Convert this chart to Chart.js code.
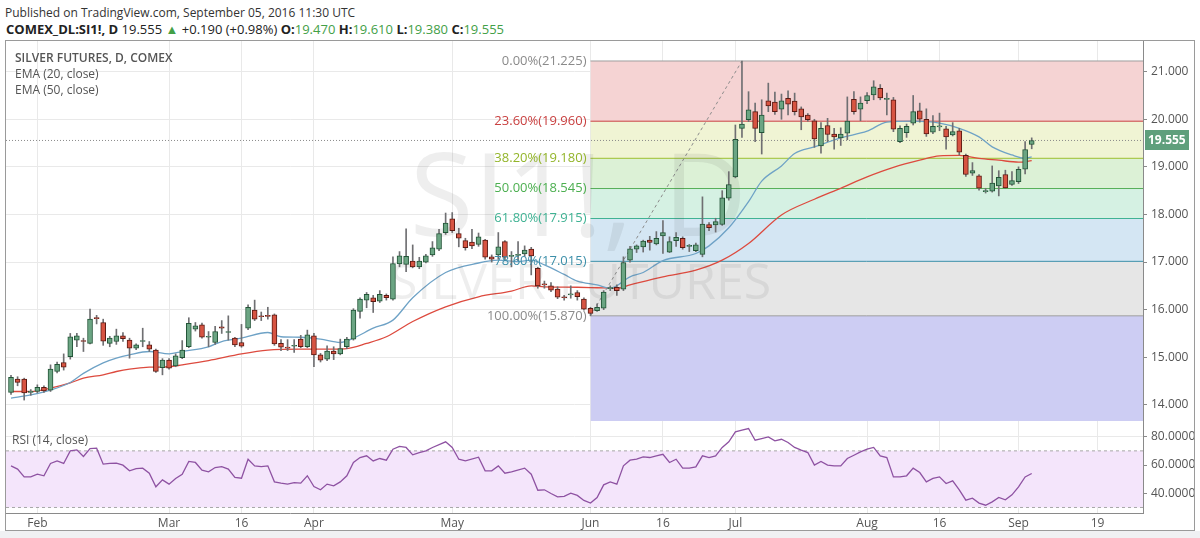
<!DOCTYPE html>
<html>
<head>
<meta charset="utf-8">
<script src="https://cdn.jsdelivr.net/npm/chart.js@4.4.0/dist/chart.umd.min.js"></script>
<style>
html, body { margin: 0; padding: 0; background: #fff; }
body { width: 1200px; height: 538px; position: relative; overflow: hidden; font-family: 'Open Sans', sans-serif; color: #333; }
#hdr1 { position: absolute; left: 5px; top: 4px; font-size: 12px; color: #333; }
#hdr2 { position: absolute; left: 6px; top: 20px; font-size: 13px; color: #222; }
.b { font-weight: bold; }
.g { color: #43a047; }
#under { position: absolute; left: 0; top: 531px; width: 1200px; height: 7px; background: #f0f1f3; }
#frame { position: absolute; left: 5px; top: 40px; width: 1190px; height: 491px; border: 1px solid #9a9a9a; box-sizing: border-box; }
#main { position: absolute; left: 6px; top: 41px; }
#rsi { position: absolute; left: 6px; top: 421px; }
.lg { position: absolute; font-size: 12px; color: #555; white-space: nowrap; }
</style>
</head>
<body>
<div id="hdr1">Published on TradingView.com, September 05, 2016 11:30 UTC</div>
<div id="hdr2"><span class="b">COMEX_DL:SI1!, D</span> 19.555 <span class="g">▲</span> +0.190 (+0.98%) <span class="b">O:</span><span class="g">19.470</span> <span class="b">H:</span><span class="g">19.610</span> <span class="b">L:</span><span class="g">19.380</span> <span class="b">C:</span><span class="g">19.555</span></div>
<div id="under"></div>
<div id="frame"></div>
<canvas id="main" width="1188" height="380"></canvas>
<canvas id="rsi" width="1188" height="109"></canvas>
<div class="lg" style="left:15px;top:49px;font-weight:600;">SILVER FUTURES, D, COMEX</div>
<div class="lg" style="left:15px;top:65px;">EMA (20, close)</div>
<div class="lg" style="left:15px;top:81px;">EMA (50, close)</div>
<div class="lg" style="left:12px;top:431px;">RSI (14, close)</div>
<script>
// daily bars, Jan 26 .. Sep 5 2016 (bar index = position in these arrays)
const open = [14.26,14.54,14.54,14.26,14.28,14.37,14.31,14.70,14.89,15.01,15.36,15.35,15.29,15.83,15.73,15.29,15.33,15.45,15.36,15.19,
  15.33,15.26,15.15,14.78,14.94,14.82,14.99,15.22,15.59,15.68,15.42,15.31,15.64,15.52,15.40,15.31,15.61,15.99,15.86,15.88,
  15.89,15.29,15.20,15.23,15.38,15.22,15.45,15.05,14.96,15.13,15.07,15.22,15.38,15.96,16.20,16.25,16.18,16.30,16.22,16.96,
  16.95,17.02,16.90,17.00,17.15,17.27,17.62,17.91,17.60,17.45,17.42,17.37,17.46,17.11,17.15,17.43,17.12,17.14,17.17,17.27,
  16.87,16.54,16.50,16.43,16.26,16.31,16.36,16.22,16.03,15.98,16.03,16.44,16.47,16.43,17.04,17.27,17.32,17.46,17.38,17.55,
  17.21,17.45,17.50,17.33,17.24,17.16,17.79,17.78,17.79,18.34,18.79,19.81,19.99,20.16,19.72,20.39,20.36,20.21,20.44,20.38,
  20.22,20.09,19.97,19.44,19.87,19.69,19.61,19.71,20.42,20.21,20.39,20.51,20.65,20.42,20.41,19.53,19.72,19.92,20.18,20.00,
  19.73,19.84,19.80,19.67,19.76,19.24,18.87,18.81,18.48,18.49,18.60,18.84,18.63,18.69,18.95,19.47];
const high = [14.62,14.59,14.56,14.32,14.42,14.40,14.84,14.90,15.07,15.50,15.50,15.40,16.01,15.88,15.80,15.44,15.59,15.52,15.40,15.28,
  15.61,15.33,15.17,14.97,14.97,15.07,15.35,15.83,15.73,15.72,15.54,15.65,15.77,15.87,15.42,15.69,16.10,16.20,15.95,16.05,
  15.91,15.37,15.37,15.37,15.46,15.57,15.50,15.08,15.24,15.22,15.38,15.42,16.02,16.25,16.36,16.30,16.40,16.33,17.11,17.22,
  17.70,17.36,17.10,17.16,17.43,17.69,18.03,18.04,17.71,17.50,17.69,17.61,17.48,17.15,17.62,17.45,17.22,17.43,17.34,17.31,
  16.89,16.60,16.57,16.48,16.30,16.50,16.40,16.25,16.05,16.12,16.40,16.50,16.52,17.11,17.33,17.36,17.46,17.54,17.64,17.87,
  17.53,17.62,17.53,17.37,17.40,18.37,17.83,17.92,18.50,18.90,19.88,21.225,20.58,20.34,20.41,20.76,20.57,20.53,20.60,20.55,
  20.26,20.12,20.00,19.93,20.02,19.81,19.82,20.47,20.58,20.47,20.56,20.81,20.73,20.55,20.46,19.86,19.90,20.50,20.34,20.22,
  20.08,20.13,19.85,19.93,19.81,19.27,19.09,18.84,18.55,19.02,18.92,18.93,18.90,19.00,19.53,19.61];
const low = [14.22,14.40,14.10,14.20,14.25,14.26,14.28,14.67,14.73,14.96,15.22,15.12,15.28,15.70,15.25,15.22,15.27,15.33,14.98,15.16,
  15.22,15.12,14.68,14.63,14.75,14.80,14.97,15.20,15.55,15.40,15.22,15.27,15.50,15.36,15.22,15.21,15.58,15.77,15.77,15.80,
  15.25,15.14,15.14,15.10,15.20,15.20,14.80,14.90,14.93,14.95,15.05,15.18,15.36,15.82,16.04,15.94,16.15,16.20,16.20,16.90,
  16.80,16.88,16.86,16.98,17.12,17.24,17.58,17.62,17.32,17.25,17.28,17.33,17.06,17.00,17.06,17.03,16.90,17.03,17.12,16.73,
  16.45,16.45,16.38,16.23,16.20,16.24,16.20,15.99,15.87,15.96,16.00,16.40,16.30,16.40,17.00,17.20,17.21,17.25,17.36,17.18,
  17.20,17.33,17.27,17.22,17.22,17.11,17.66,17.63,17.77,18.30,18.77,19.62,19.95,19.53,19.27,20.16,20.10,20.00,20.09,20.09,
  19.78,19.96,19.41,19.29,19.53,19.37,19.45,19.57,20.11,19.97,20.33,20.41,20.41,20.09,19.74,19.51,19.62,19.88,19.94,19.64,
  19.70,19.76,19.37,19.65,19.25,18.80,18.82,18.51,18.45,18.47,18.39,18.55,18.61,18.65,18.85,19.38];
const close = [14.58,14.47,14.25,14.27,14.37,14.29,14.75,14.85,14.79,15.43,15.45,15.33,15.80,15.81,15.34,15.40,15.45,15.39,15.19,15.26,
  15.34,15.17,14.70,14.94,14.77,15.03,15.15,15.71,15.66,15.42,15.44,15.54,15.61,15.54,15.26,15.23,16.05,15.80,15.85,15.86,
  15.28,15.21,15.19,15.25,15.22,15.47,15.05,14.94,15.13,15.07,15.18,15.38,15.99,16.22,16.32,16.17,16.32,16.25,16.97,17.13,
  17.12,16.90,17.02,17.13,17.30,17.60,17.82,17.66,17.50,17.30,17.34,17.53,17.10,17.06,17.32,17.10,17.14,17.16,17.25,17.13,
  16.50,16.52,16.41,16.26,16.25,16.33,16.27,16.01,15.92,16.05,16.37,16.46,16.40,16.99,17.28,17.34,17.44,17.41,17.50,17.62,
  17.43,17.52,17.30,17.35,17.36,17.80,17.72,17.85,18.35,18.63,19.58,19.90,20.20,19.81,20.09,20.28,20.16,20.39,20.32,20.16,
  20.05,19.99,19.59,19.81,19.68,19.63,19.69,19.96,20.16,20.34,20.50,20.68,20.45,20.44,19.79,19.81,19.85,20.16,20.00,19.69,
  19.85,19.86,19.63,19.74,19.31,18.84,18.92,18.55,18.50,18.66,18.78,18.56,18.71,18.95,19.365,19.555];

// EMA readings (bar index, value)
const ema20Idx = [0,3,6,9,11,14,16,18,21,24,26,30,32,35,39,41,44,47,50,52,55,58,61,66,71,74,77,79,81,84,86,89,91,94,96,99,104,106,109,112,114,117,119,122,126,130,133,137,141,144,147,149,152,154,155];
const ema20Val = [14.14,14.21,14.31,14.47,14.66,14.88,14.98,15.05,15.12,15.07,15.12,15.22,15.33,15.40,15.52,15.43,15.42,15.38,15.31,15.40,15.61,15.78,16.25,16.78,16.98,17.04,17.01,17.04,16.94,16.74,16.60,16.52,16.45,16.69,16.78,17.03,17.18,17.34,17.72,18.27,18.70,19.02,19.28,19.42,19.61,19.75,19.94,19.96,19.92,19.81,19.63,19.42,19.25,19.18,19.21];
const ema50Idx = [0,3,6,9,11,14,16,18,21,24,26,30,35,39,44,49,51,54,57,61,66,71,76,79,81,86,89,92,94,99,104,108,112,117,122,126,130,134,138,141,144,147,150,153,155];
const ema50Val = [14.28,14.28,14.35,14.46,14.56,14.63,14.70,14.75,14.79,14.80,14.84,14.93,15.07,15.15,15.17,15.17,15.18,15.29,15.43,15.75,16.06,16.27,16.39,16.50,16.48,16.47,16.46,16.45,16.52,16.69,16.83,17.04,17.39,17.99,18.32,18.55,18.79,18.99,19.14,19.23,19.24,19.18,19.14,19.10,19.13];

// RSI(14) readings
const rsiIdx = [0,1,2,3,4,5,6,7,8,9,10,11,12,13,14,15,16,17,18,19,20,21,22,23,24,25,26,27,28,29,30,31,32,33,34,35,36,37,38,39,
  40,41,42,43,44,45,46,47,48,49,50,51,52,53,54,55,56,57,58,59,60,61,62,63,64,66,67,68,69,71,72,73,74,75,76,78,79,80,81,82,
  83,84,85,86,87,88,89,90,91,92,93,94,95,96,97,98,99,100,101,102,103,104,105,106,107,108,109,110,111,112,113,114,115,116,117,118,119,120,
  121,122,123,124,125,126,127,128,129,130,131,132,133,134,135,136,137,138,139,140,141,142,143,144,145,146,147,148,149,150,151,152,153,154,155];
const rsiVal = [59.4,57.1,51.6,51.6,53.5,52.4,61.1,62.9,61.1,70.0,70.7,66.0,71.6,71.9,60.6,61.1,61.3,59.9,55.9,57.5,57.8,54.2,44.6,49.5,46.5,50.5,53.5,62.5,61.8,56.4,55.2,58.2,58.9,57.1,51.2,50.7,64.1,59.4,58.9,59.4,
  48.1,47.2,46.5,47.6,47.2,52.4,44.8,42.5,46.5,45.3,48.1,52.4,61.8,65.3,66.5,62.9,64.6,63.4,71.2,73.1,72.4,67.2,68.8,70.0,72.4,76.4,72.4,64.1,62.9,65.5,55.9,55.9,59.4,54.2,55.2,57.8,53.5,42.2,42.5,39.9,
  37.5,37.8,40.1,38.5,35.0,33.1,37.0,46.0,48.1,46.5,59.4,63.4,64.1,65.8,65.3,66.5,67.6,61.8,64.1,57.8,57.8,58.7,66.5,65.3,66.5,72.4,76.4,83.4,84.6,85.8,77.5,78.7,79.9,77.1,78.2,75.9,72.4,70.5,
  68.8,59.9,62.5,59.9,59.4,59.4,64.6,66.9,69.3,71.2,72.4,66.5,65.3,51.6,51.6,52.4,57.8,54.7,48.1,50.5,51.6,46.9,48.8,42.5,35.2,36.6,33.1,31.6,34.0,37.1,35.4,38.9,44.6,51.6,54.0];

// fibonacci retracement drawn from the Jun 1 low to the Jul 5 high
const fibStart = 88, fibEnd = 111;
const fibPct = ['0.00%', '23.60%', '38.20%', '50.00%', '61.80%', '78.60%', '100.00%'];
const fibVal = [21.225, 19.960, 19.180, 18.545, 17.915, 17.015, 15.870];
const fibLine = ['#9e9e9e', '#c94040', '#9cbf2f', '#58b05a', '#3fb293', '#3c8fa9', '#9e9e9e'];
const fibZone = [null, '#f5d3d3', '#f0f4d4', '#dcf1d6', '#d5f1e3', '#d4e6f3', '#e6e6e6'];
const fibText = ['#8a8a8a', '#c94040', '#93b52a', '#4caf50', '#3fb293', '#3c8fa9', '#8a8a8a'];

const tickIdx = [4, 24, 35, 46, 67, 88, 99, 110, 130, 141, 153, 165];
const tickLab = ['Feb', 'Mar', '16', 'Apr', 'May', 'Jun', '16', 'Jul', 'Aug', '16', 'Sep', '19'];
const priceTicks = [14, 15, 16, 17, 18, 19, 20, 21];
const rsiTicks = [40, 60, 80];
const lastPrice = 19.555;

const xMin = -0.76, xMax = 171.9;
const FONT = "'Open Sans', sans-serif";
const bars = close.map((c, i) => i);

const datasets = [];
fibVal.forEach((v, k) => {
  datasets.push({
    type: 'line', data: [{x: fibStart, y: v}, {x: xMax, y: v}],
    borderColor: fibLine[k], borderWidth: 1, pointRadius: 0,
    fill: k === 0 ? false : '-1', backgroundColor: fibZone[k], order: 10
  });
});
datasets.push({
  type: 'line', data: [{x: fibStart, y: fibVal[6]}, {x: xMax, y: fibVal[6]}],
  borderColor: 'rgba(0,0,0,0)', borderWidth: 0, pointRadius: 0,
  fill: 'start', backgroundColor: '#cdcdf3', order: 10
});
datasets.push({
  type: 'line', data: [{x: fibStart, y: fibVal[6]}, {x: fibEnd, y: fibVal[0]}],
  borderColor: '#8c8c8c', borderWidth: 1, borderDash: [3, 3], pointRadius: 0, fill: false, order: 9
});
datasets.push({
  type: 'line', data: [{x: xMin, y: lastPrice}, {x: xMax, y: lastPrice}],
  borderColor: '#8a8a8a', borderWidth: 1, borderDash: [1, 2], pointRadius: 0, fill: false, order: 9
});
datasets.push({
  type: 'line', data: ema20Idx.map((x, k) => ({x, y: ema20Val[k]})),
  borderColor: '#6ea2c6', borderWidth: 1.3, pointRadius: 0, fill: false,
  cubicInterpolationMode: 'monotone', order: 5
});
datasets.push({
  type: 'line', data: ema50Idx.map((x, k) => ({x, y: ema50Val[k]})),
  borderColor: '#dd4a3e', borderWidth: 1.3, pointRadius: 0, fill: false,
  cubicInterpolationMode: 'monotone', order: 5
});
const WICKS = datasets.length;
datasets.push({
  type: 'bar', data: bars.map(i => ({x: i, y: [low[i], high[i]]})),
  backgroundColor: '#6f6f72', barThickness: 1, grouped: false, order: 2
});
datasets.push({
  type: 'bar', data: bars.map(i => ({x: i, y: [open[i], close[i]]})),
  backgroundColor: bars.map(i => close[i] >= open[i] ? '#6ba583' : '#d75442'),
  borderColor: bars.map(i => close[i] >= open[i] ? '#225437' : '#5b1a13'),
  borderWidth: 1, borderSkipped: false, barThickness: 5, minBarLength: 1,
  grouped: false, order: 1
});

// no half-label padding on the value axes, so the panes fill their canvases
const noPad = s => { s.width = 51; s.paddingTop = 0; s.paddingBottom = 0; };

const watermark = {
  id: 'watermark',
  beforeDatasetDraw(chart, args) {
    if (args.index !== WICKS) return;
    const {ctx, chartArea: a} = chart;
    const cx = (a.left + a.right) / 2;
    ctx.save();
    ctx.fillStyle = 'rgba(70,70,70,0.09)';
    ctx.textAlign = 'center';
    ctx.textBaseline = 'middle';
    ctx.font = '116px ' + FONT;
    ctx.fillText('SI1!, D', cx + 4, a.top + 162);
    ctx.font = '50px ' + FONT;
    ctx.fillText('SILVER FUTURES', cx + 6, a.top + 244);
    ctx.restore();
  }
};

const fibLabels = {
  id: 'fibLabels',
  afterDatasetsDraw(chart) {
    const {ctx, scales: {x, y}} = chart;
    const px = x.getPixelForValue(fibStart) - 4;
    ctx.save();
    ctx.font = '13px ' + FONT;
    ctx.textAlign = 'right';
    ctx.textBaseline = 'middle';
    fibVal.forEach((v, k) => {
      ctx.fillStyle = fibText[k];
      ctx.fillText(fibPct[k] + '(' + v.toFixed(3) + ')', px, y.getPixelForValue(v));
    });
    ctx.restore();
  }
};

const priceTag = {
  id: 'priceTag',
  afterDraw(chart) {
    const {ctx, chartArea: a, scales: {y}} = chart;
    const py = Math.round(y.getPixelForValue(lastPrice));
    ctx.save();
    ctx.fillStyle = '#5f9f7c';
    ctx.fillRect(a.right + 2, py - 10, 44, 20);
    ctx.fillStyle = '#fff';
    ctx.font = 'bold 12px ' + FONT;
    ctx.textAlign = 'left';
    ctx.textBaseline = 'middle';
    ctx.fillText(lastPrice.toFixed(3), a.right + 5, py + 1);
    ctx.restore();
  }
};

new Chart(document.getElementById('main').getContext('2d'), {
  type: 'bar',
  data: {datasets},
  options: {
    responsive: false, animation: false,
    layout: {padding: 0},
    plugins: {legend: {display: false}, tooltip: {enabled: false}},
    scales: {
      x: {
        type: 'linear', min: xMin, max: xMax, offset: false,
        grid: {color: '#e9e9e9', offset: false, drawTicks: false},
        border: {color: '#8a8a8a'},
        ticks: {display: false},
        afterBuildTicks: s => { s.ticks = tickIdx.map(v => ({value: v})); },
        afterFit: s => { s.height = 0; s.paddingLeft = 0; s.paddingRight = 0; }
      },
      y: {
        position: 'right', min: 13.66, max: 21.645,
        grid: {color: '#e9e9e9', tickLength: 4, tickColor: '#8a8a8a'},
        border: {color: '#8a8a8a'},
        ticks: {color: '#555', font: {size: 12, family: FONT}, padding: 4, callback: v => v.toFixed(3)},
        afterBuildTicks: s => { s.ticks = priceTicks.map(v => ({value: v})); },
        afterFit: noPad
      }
    }
  },
  plugins: [watermark, fibLabels, priceTag]
});

new Chart(document.getElementById('rsi').getContext('2d'), {
  type: 'line',
  data: {
    datasets: [
      {data: [{x: xMin, y: 70}, {x: xMax, y: 70}], borderColor: '#a8a8a8', borderWidth: 1, borderDash: [3, 3], pointRadius: 0, fill: false, order: 5},
      {data: [{x: xMin, y: 30}, {x: xMax, y: 30}], borderColor: '#a8a8a8', borderWidth: 1, borderDash: [3, 3], pointRadius: 0, fill: '-1', backgroundColor: '#f4e5fb', order: 5},
      {data: rsiIdx.map((x, k) => ({x, y: rsiVal[k]})), borderColor: '#8e52a2', borderWidth: 1.3, pointRadius: 0, fill: false, tension: 0, order: 1}
    ]
  },
  options: {
    responsive: false, animation: false,
    layout: {padding: 0},
    plugins: {legend: {display: false}, tooltip: {enabled: false}},
    scales: {
      x: {
        type: 'linear', min: xMin, max: xMax,
        grid: {color: '#e9e9e9', drawTicks: false},
        border: {color: '#8a8a8a'},
        ticks: {color: '#555', font: {size: 12, family: FONT}, padding: 3, maxRotation: 0, autoSkip: false,
          callback: v => tickLab[tickIdx.indexOf(v)]},
        afterBuildTicks: s => { s.ticks = tickIdx.map(v => ({value: v})); },
        afterFit: s => { s.height = 17; s.paddingLeft = 0; s.paddingRight = 0; }
      },
      y: {
        position: 'right', min: 26.1, max: 91.1,
        grid: {color: '#e9e9e9', tickLength: 4, tickColor: '#8a8a8a'},
        border: {color: '#8a8a8a'},
        ticks: {color: '#555', font: {size: 12, family: FONT}, padding: 4, callback: v => v.toFixed(4)},
        afterBuildTicks: s => { s.ticks = rsiTicks.map(v => ({value: v})); },
        afterFit: noPad
      }
    }
  }
});
</script>
</body>
</html>
